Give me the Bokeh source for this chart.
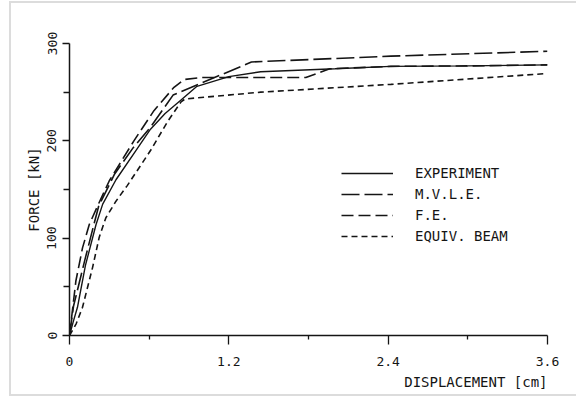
from bokeh.plotting import figure
from bokeh.models import Legend, LegendItem, FixedTicker, Range1d, Title
from bokeh.embed import file_html
from bokeh.resources import INLINE

# Load–displacement curves (displacement in cm, force in kN)
exp_x = [0, 0.03, 0.06, 0.12, 0.20, 0.25, 0.35, 0.50, 0.61, 0.72, 0.84, 0.96, 1.20, 1.44, 2.00, 2.42, 3.00, 3.60]
exp_y = [0, 15, 29, 72, 114, 135, 160, 190, 212, 228, 242, 256, 266, 271, 274, 276.5, 277, 278]

mvle_x = [0, 0.03, 0.12, 0.18, 0.22, 0.34, 0.48, 0.61, 0.78, 1.37, 2.42, 3.60]
mvle_y = [0, 30, 80, 112, 133, 166, 193, 214, 247, 281, 287, 292]

fe_x = [0, 0.048, 0.098, 0.149, 0.211, 0.30, 0.485, 0.636, 0.787, 0.863, 0.99, 1.78, 1.96, 2.42, 3.00, 3.60]
fe_y = [0, 56, 90, 114, 133, 159, 200, 231, 255, 263, 265, 265, 274, 276.5, 277, 278]

eb_x = [0, 0.05, 0.098, 0.174, 0.224, 0.274, 0.35, 0.435, 0.61, 0.74, 0.84, 0.87, 1.44, 2.42, 3.58]
eb_y = [0, 12, 29, 70, 101, 121, 138, 154, 190, 220, 240, 243, 250, 258, 269]

series_names = ["EXPERIMENT", "M.V.L.E.", "F.E.", "EQUIV. BEAM"]
series_dash = ["solid", "18 5", "12 5", "6 4"]

x_ticks = [0, 1.2, 2.4, 3.6]
x_minor = [0.6, 1.8, 3.0]
y_ticks = [0, 100, 200, 300]
y_minor = [50, 150, 250]

FONT = "DejaVu Sans Mono"
INK = "#151515"

p = figure(width=567, height=395, output_backend="svg", toolbar_location=None,
           x_range=Range1d(0, 3.6), y_range=Range1d(0, 300),
           min_border_left=58, min_border_right=31, min_border_top=40, min_border_bottom=63,
           y_axis_label="FORCE [kN]")
p.styles = {"border-left": "2px solid #dcdcdc", "border-top": "2px solid #dcdcdc",
            "border-bottom": "2px solid #dcdcdc", "margin-left": "9px", "margin-top": "1px"}

p.grid.visible = False
p.outline_line_color = None
p.background_fill_color = "white"
p.border_fill_color = "white"

for ax in (p.xaxis[0], p.yaxis[0]):
    ax.axis_line_color = INK
    ax.axis_line_width = 1.5
    ax.major_tick_line_color = INK
    ax.minor_tick_line_color = INK
    ax.major_tick_line_width = 1.3
    ax.minor_tick_line_width = 1.3
    ax.major_tick_in = 0
    ax.minor_tick_in = 0
    ax.major_label_text_font = FONT
    ax.major_label_text_font_size = "13px"
    ax.major_label_text_color = INK
    ax.axis_label_text_font = FONT
    ax.axis_label_text_font_size = "14px"
    ax.axis_label_text_font_style = "normal"
    ax.axis_label_text_color = INK

p.xaxis.ticker = FixedTicker(ticks=x_ticks, minor_ticks=x_minor)
p.yaxis.ticker = FixedTicker(ticks=y_ticks, minor_ticks=y_minor)
p.xaxis.major_tick_out = 9
p.xaxis.minor_tick_out = 4
p.yaxis.major_tick_out = 7
p.yaxis.minor_tick_out = 6
p.xaxis.major_label_standoff = 12
p.yaxis.major_label_orientation = "vertical"
p.yaxis.major_label_standoff = 6
p.yaxis.axis_label_standoff = 3

# x-axis caption, flush with the right end of the axis
x_caption = Title(text="DISPLACEMENT [cm]", align="right", standoff=7,
                  text_font=FONT, text_font_size="14px", text_font_style="normal",
                  text_color=INK)
p.add_layout(x_caption, "below")

renderers = []
for (xs, ys), dash in zip([(exp_x, exp_y), (mvle_x, mvle_y), (fe_x, fe_y), (eb_x, eb_y)], series_dash):
    r = p.line(xs, ys, line_color=INK, line_width=1.4 if dash == "solid" else 1.6, line_dash=dash)
    renderers.append(r)

legend = Legend(items=[LegendItem(label=n, renderers=[r]) for n, r in zip(series_names, renderers)],
                location=(272, 91), orientation="vertical")
legend.border_line_color = None
legend.background_fill_alpha = 0
legend.padding = 0
legend.margin = 0
legend.spacing = 5
legend.glyph_width = 52
legend.glyph_height = 14
legend.label_height = 14
legend.label_standoff = 22
legend.label_text_font = FONT
legend.label_text_font_size = "14px"
legend.label_text_color = INK
p.add_layout(legend)

open("out.html", "w").write(file_html(p, INLINE))
